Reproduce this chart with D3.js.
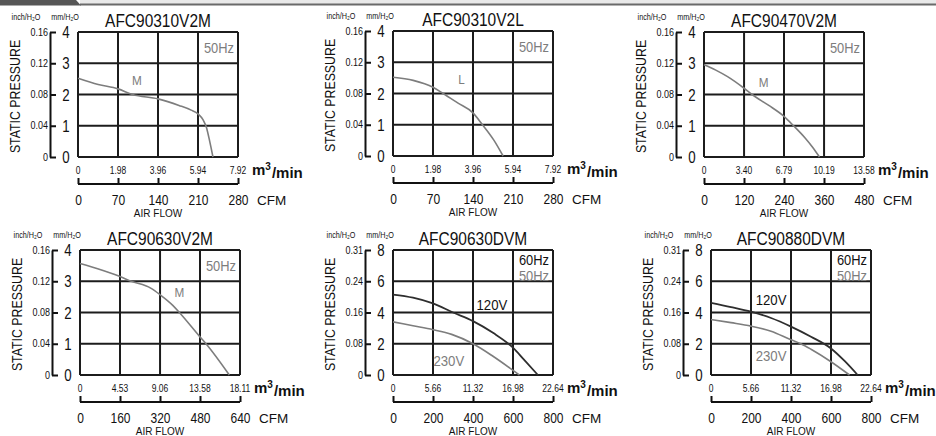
<!DOCTYPE html>
<html><head><meta charset="utf-8">
<script src="https://cdn.jsdelivr.net/npm/d3@7/dist/d3.min.js"></script>
<style>
body{margin:0;background:#fff;}
text{font-family:"Liberation Sans",Arial,sans-serif;}
</style></head>
<body><svg id="c" width="936" height="436"></svg>
<script>
// ---------- DATA ----------
const modelNames = ["AFC90310V2M","AFC90310V2L","AFC90470V2M","AFC90630V2M","AFC90630DVM","AFC90880DVM"];
const flowTickLabels = [
  ["0","1.98","3.96","5.94","7.92"],
  ["0","1.98","3.96","5.94","7.92"],
  ["0","3.40","6.79","10.19","13.58"],
  ["0","4.53","9.06","13.58","18.11"],
  ["0","5.66","11.32","16.98","22.64"],
  ["0","5.66","11.32","16.98","22.64"]
];
const cfmTicks = [
  [0,70,140,210,280],[0,70,140,210,280],[0,120,240,360,480],
  [0,160,320,480,640],[0,200,400,600,800],[0,200,400,600,800]
];
const mmTicks = [[0,1,2,3,4],[0,1,2,3,4],[0,1,2,3,4],[0,1,2,3,4],[0,2,4,6,8],[0,2,4,6,8]];
const inchTickLabels = [
  ["0","0.04","0.08","0.12","0.16"],["0","0.04","0.08","0.12","0.16"],
  ["0","0.04","0.08","0.12","0.16"],["0","0.04","0.08","0.12","0.16"],
  ["0","0.08","0.16","0.24","0.31"],["0","0.08","0.16","0.24","0.31"]
];
// curves: [air flow m3/min, static pressure mmH2O]
const curveAFC90310V2M = [[0,2.52],[1,2.32],[1.98,2.18],[2.7,2.0],[3.96,1.86],[5,1.65],[5.6,1.5],[5.94,1.38],[6.2,1.18],[6.35,0.96],[6.52,0.5],[6.68,0]];
const curveAFC90310V2L = [[0,2.52],[1,2.42],[1.98,2.2],[2.48,2.0],[3.2,1.7],[3.96,1.38],[4.43,1.0],[5,0.5],[5.45,0]];
const curveAFC90470V2M = [[0,2.95],[1,2.78],[2,2.57],[3.4,2.2],[4.08,2.0],[5.5,1.65],[6.79,1.3],[7.6,1.0],[8.6,0.6],[9.2,0.32],[9.8,0]];
const curveAFC90630V2M = [[0,3.57],[2,3.4],[4.53,3.15],[5.8,3.0],[8,2.78],[9.06,2.57],[10.5,2.23],[11.25,2.0],[13.58,1.22],[14.26,1.0],[16.9,0]];
const curveAFC90630DVM_120V = [[0,5.15],[2.83,4.95],[5.66,4.58],[8.5,4.0],[11.32,3.45],[14.15,2.7],[16.98,1.75],[18.5,1.0],[20.5,0]];
const curveAFC90630DVM_230V = [[0,3.4],[2.83,3.15],[5.66,2.9],[8.3,2.6],[11.32,2.0],[14.15,1.2],[16.98,0.3],[17.9,0]];
const curveAFC90880DVM_120V = [[0,4.62],[2.83,4.35],[5.66,4.05],[8.5,3.65],[11.32,3.1],[14.15,2.45],[16.98,1.7],[18.9,0.9],[20.75,0]];
const curveAFC90880DVM_230V = [[0,3.55],[2.83,3.35],[5.66,3.13],[8.5,2.8],[11.32,2.25],[12.7,2.0],[14.15,1.65],[16.98,0.85],[19.6,0]];
const seriesPerPanel = [
  [{name:"M", data:curveAFC90310V2M, kind:"50"}],
  [{name:"L", data:curveAFC90310V2L, kind:"50"}],
  [{name:"M", data:curveAFC90470V2M, kind:"50"}],
  [{name:"M", data:curveAFC90630V2M, kind:"50"}],
  [{name:"120V", data:curveAFC90630DVM_120V, kind:"60"},{name:"230V", data:curveAFC90630DVM_230V, kind:"50"}],
  [{name:"120V", data:curveAFC90880DVM_120V, kind:"60"},{name:"230V", data:curveAFC90880DVM_230V, kind:"50"}]
];
// label anchor points in data units [flow, pressure]
const seriesLabelAt = [
  [[2.92,2.46]],[[3.39,2.46]],[[5.06,2.4]],[[11.25,2.66]],
  [[14.0,4.48],[7.9,0.9]],[[8.5,4.8],[8.5,1.22]]
];
const freqLabels = [["50Hz"],["50Hz"],["50Hz"],["50Hz"],["60Hz","50Hz"],["60Hz","50Hz"]];

// ---------- LAYOUT ----------
const layout = [{x:78,y:32},{x:393,y:31},{x:704,y:32},{x:80,y:250},{x:393,y:250},{x:711,y:250}];
const W = 160, H = 125;
const GRID = "#1c1c1c", GRAY = "#7d7d7d", DARK = "#2e2e2e";

const svg = d3.select("#c");

function condense(sel, f){
  sel.each(function(){
    const w = this.getComputedTextLength();
    this.setAttribute("textLength", (w*f).toFixed(1));
    this.setAttribute("lengthAdjust","spacingAndGlyphs");
  });
  return sel;
}

// header band
svg.append("rect").attr("x",80).attr("y",0).attr("width",856).attr("height",4).attr("fill","#e9e9e9");
svg.append("line").attr("x1",80).attr("x2",936).attr("y1",4.5).attr("y2",4.5).attr("stroke","#6a6a6a").attr("stroke-width",2);
svg.append("path").attr("d","M0,0H76L81,5.5H0Z").attr("fill","#575757");

modelNames.forEach((name,i)=>{
  const L = layout[i];
  const g = svg.append("g").attr("transform",`translate(${L.x},${L.y})`);
  const fl = flowTickLabels[i].map(Number);
  const x = d3.scaleLinear().domain([0, fl[fl.length-1]]).range([0,W]);
  const mm = mmTicks[i];
  const y = d3.scaleLinear().domain([0, mm[mm.length-1]]).range([H,0]);
  const xc = d3.scaleLinear().domain([0, cfmTicks[i][cfmTicks[i].length-1]]).range([0,W]);

  // grid
  g.selectAll(".vg").data(fl).join("line")
    .attr("x1",d=>x(d)).attr("x2",d=>x(d)).attr("y1",0).attr("y2",H)
    .attr("stroke",GRID).attr("stroke-width",2);
  g.selectAll(".hg").data(mm).join("line")
    .attr("x1",0).attr("x2",W).attr("y1",d=>y(d)).attr("y2",d=>y(d))
    .attr("stroke",GRID).attr("stroke-width",2);

  // curves
  const line = d3.line().x(d=>x(d[0])).y(d=>y(d[1])).curve(d3.curveMonotoneX);
  seriesPerPanel[i].forEach((s,k)=>{
    g.append("path").attr("d",line(s.data)).attr("fill","none")
      .attr("stroke", s.kind==="60" ? DARK : GRAY).attr("stroke-width", s.kind==="60"?1.8:1.6);
    const p = seriesLabelAt[i][k];
    const big = s.name.length>1;
    const t = g.append("text").attr("x",x(p[0])).attr("y",y(p[1])).attr("dy","0.36em")
      .attr("text-anchor","middle").attr("font-size", big?15:13)
      .attr("fill", s.kind==="60" ? "#111" : GRAY).text(s.name);
    condense(t, big?0.88:0.9);
  });

  // frequency labels
  freqLabels[i].forEach((f,k)=>{
    const two = freqLabels[i].length>1;
    const t = g.append("text").attr("x",W-4)
      .attr("y", two ? 10+k*16 : 16).attr("dy","0.36em").attr("text-anchor","end")
      .attr("font-size",14).attr("fill", f==="60Hz" ? "#111" : GRAY).text(f);
    condense(t,0.92);
  });

  // title
  condense(g.append("text").attr("x",W/2).attr("y",-5).attr("text-anchor","middle")
    .attr("font-size",18).attr("fill","#111").text(name),0.86);

  // left bracket axis
  const bx = -28;
  const ya = d3.axisRight(y).tickValues(mm).tickFormat("").tickSize(6).tickSizeOuter(0);
  const yg = g.append("g").attr("transform",`translate(${bx},0)`).call(ya);
  yg.select(".domain").attr("stroke","#111").attr("stroke-width",2);
  yg.selectAll(".tick line").attr("stroke","#111").attr("stroke-width",2);
  // labels
  mm.forEach((v,k)=>{
    condense(g.append("text").attr("x",-12).attr("y",y(v)).attr("dy","0.36em")
      .attr("text-anchor","middle").attr("font-size",17).attr("fill","#111").text(v),0.78);
    condense(g.append("text").attr("x",bx-2).attr("y",y(v)).attr("dy","0.36em")
      .attr("text-anchor","end").attr("font-size",10).attr("fill","#111").text(inchTickLabels[i][k]),0.9);
  });
  condense(g.append("text").attr("x",bx-24).attr("y",-12).attr("text-anchor","middle")
    .attr("font-size",8.5).attr("fill","#111").text("inch/H₂O"),0.85);
  condense(g.append("text").attr("x",-13).attr("y",-12).attr("text-anchor","middle")
    .attr("font-size",8.5).attr("fill","#111").text("mm/H₂O"),0.85);
  condense(g.append("text").attr("transform",`translate(${bx-35},${H/2+2}) rotate(-90)`)
    .attr("text-anchor","middle").attr("dy","0.36em").attr("font-size",14).attr("fill","#111")
    .text("STATIC PRESSURE"),0.88);

  // m3/min tick labels
  const ft = g.selectAll(".ft").data(flowTickLabels[i]).join("text")
    .attr("x",(s,k)=>x(fl[k])).attr("y",H+13).attr("dy","0.36em")
    .attr("text-anchor","middle").attr("font-size",10).attr("fill","#111").text(s=>s);
  condense(ft,0.85);
  const mt = g.append("text").attr("x",W+14).attr("y",H+13).attr("dy","0.36em")
    .attr("font-size",15).attr("font-weight","bold").attr("fill","#111");
  mt.append("tspan").text("m");
  mt.append("tspan").attr("font-size",10).attr("dy","-0.55em").text("3");
  mt.append("tspan").attr("dy","0.55em").attr("dx",1).text("/min");

  // CFM axis
  const ca = d3.axisBottom(xc).tickValues(cfmTicks[i]).tickSizeInner(-6).tickSizeOuter(0).tickPadding(10);
  const cg = g.append("g").attr("transform",`translate(0,${H+27})`).call(ca);
  cg.select(".domain").attr("stroke","#111").attr("stroke-width",2).attr("d",`M0,0H${W}`);
  cg.selectAll(".tick line").attr("stroke","#111").attr("stroke-width",2);
  cg.selectAll(".tick text").attr("font-size",15).attr("fill","#111")
    .attr("font-family",'"Liberation Sans",Arial,sans-serif');
  condense(cg.selectAll(".tick text"),0.8);
  g.append("text").attr("x",W+19).attr("y",H+43).attr("dy","0.36em")
    .attr("font-size",13.5).attr("fill","#111").text("CFM");
  g.append("text").attr("x",W/2).attr("y",H+56).attr("dy","0.36em").attr("text-anchor","middle")
    .attr("font-size",10).attr("fill","#111").text("AIR FLOW");
});
</script></body></html>
